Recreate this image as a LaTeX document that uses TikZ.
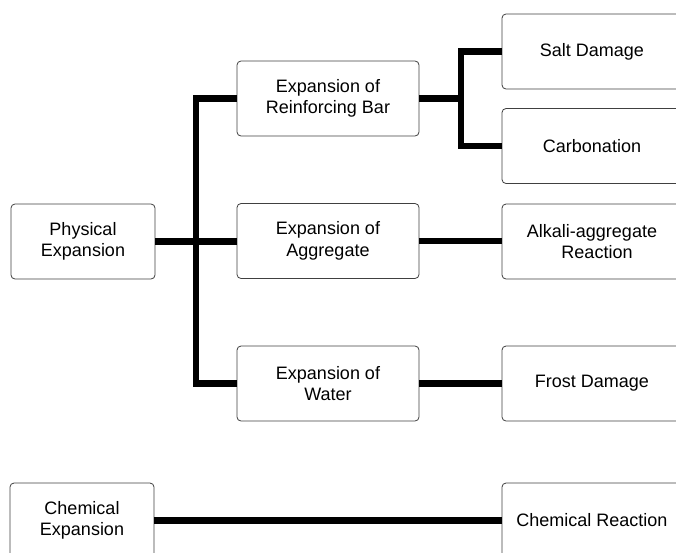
\documentclass[tikz,border=0pt]{standalone}
\usepackage{fontspec}
\setmainfont{Liberation Sans}
\begin{document}
\begin{tikzpicture}[x=1pt,y=-1pt,
  box/.style={draw=black!75, line width=0.8pt, rounded corners=4pt, fill=white,
    align=center, inner sep=0pt, minimum height=75pt,
    font=\fontsize{18}{21.5}\selectfont},
  leftbox/.style={box, minimum width=144pt},
  midbox/.style={box, minimum width=182pt},
  rightbox/.style={box, minimum width=180pt},
  link/.style={line width=6.2pt, line join=miter, line cap=butt}]
\useasboundingbox (0,0) rectangle (676,552);
\clip (0,0) rectangle (676,552);

% first column
\node[leftbox] (phys) at (83,241.5) {Physical\\Expansion};
\node[leftbox] (chemexp) at (82,520.5) {Chemical\\Expansion};

% second column
\node[midbox] (reinf) at (328,98.5) {Expansion of\\Reinforcing Bar};
\node[midbox] (aggr) at (328,241) {Expansion of\\Aggregate};
\node[midbox] (water) at (328,383.5) {Expansion of\\Water};

% third column
\node[rightbox] (salt) at (592,51.5) {Salt Damage};
\node[rightbox] (carb) at (592,146) {Carbonation};
\node[rightbox] (alkali) at (592,241.5) {Alkali-aggregate\\\hspace*{10pt}Reaction};
\node[rightbox] (frost) at (592,383.5) {Frost Damage};
\node[rightbox] (chemreact) at (592,520.5) {Chemical Reaction};

% bus lines
\coordinate (tk) at (196,0);
\coordinate (bk) at (461,0);

\draw[link] (reinf.west) -- (reinf.west -| tk) -- (water.west -| tk) -- (water.west);
\draw[link] (phys.east) -- (phys.east -| aggr.west);
\draw[link] (reinf.east) -- (reinf.east -| bk);
\draw[link] (salt.west) -- (salt.west -| bk) -- (carb.west -| bk) -- (carb.west);
\draw[link] (aggr.east) -- (aggr.east -| alkali.west);
\draw[link] (water.east) -- (water.east -| frost.west);
\draw[link] (chemexp.east) -- (chemexp.east -| chemreact.west);
\end{tikzpicture}
\end{document}
